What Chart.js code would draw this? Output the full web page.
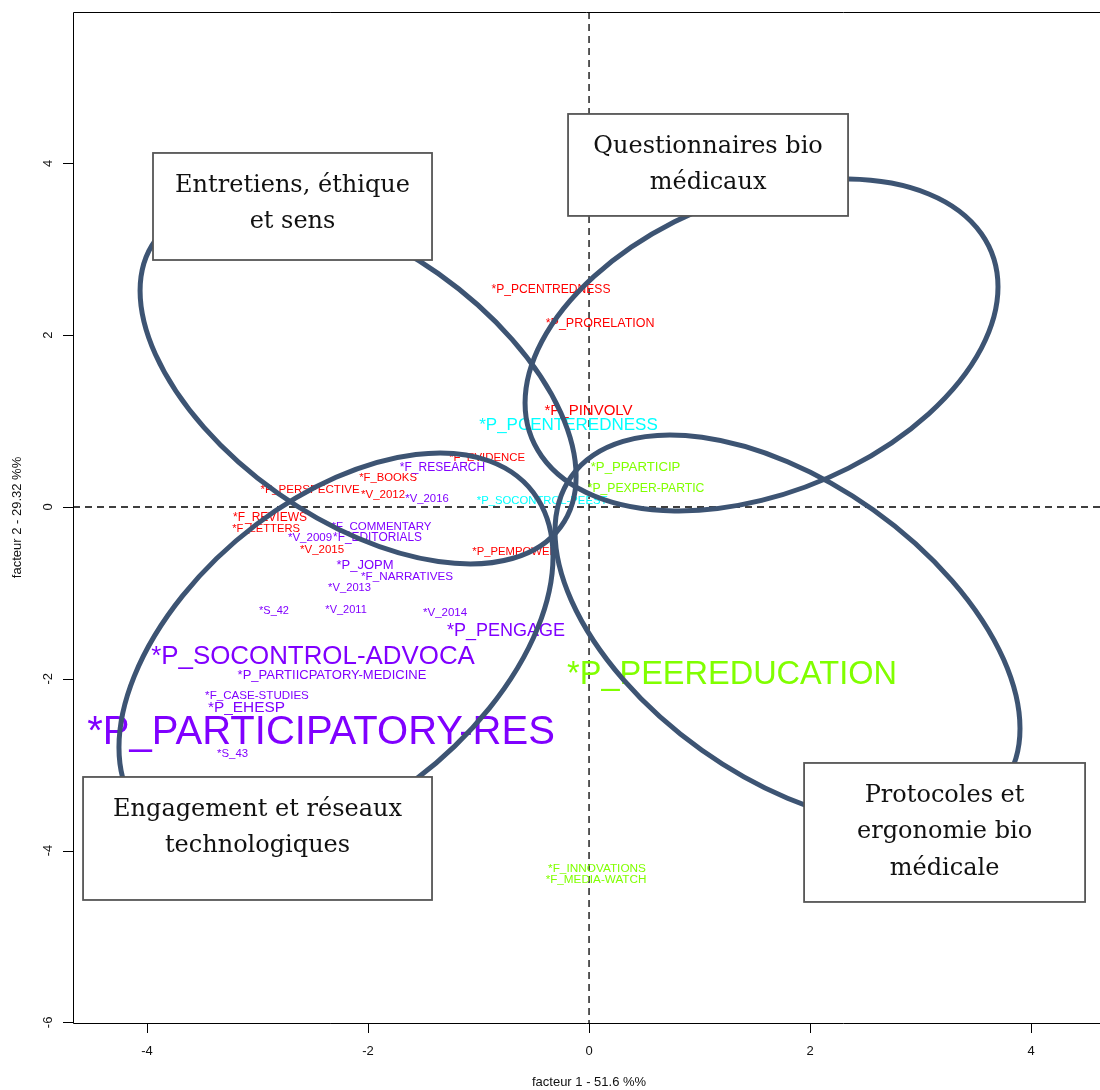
<!DOCTYPE html>
<html>
<head>
<meta charset="utf-8">
<title>AFC</title>
<script src="https://cdn.jsdelivr.net/npm/chart.js@4.4.1/dist/chart.umd.min.js"></script>
<style>
  html, body { margin: 0; padding: 0; background: #fff; }
  #wrap { width: 1100px; height: 1090px; }
</style>
</head>
<body>
<div id="wrap"><canvas id="afc" width="1100" height="1090"></canvas></div>
<script>
// Modalites and their coordinates on the two factors
var modalites = [
  '*P_PCENTREDNESS', '*P_PRORELATION', '*P_PINVOLV', '*P_PCENTEREDNESS',
  '*F_EVIDENCE', '*F_RESEARCH', '*F_BOOKS', '*F_PERSPECTIVE', '*V_2012', '*V_2016',
  '*P_SOCONTROL-PEEST', '*F_REVIEWS', '*F_LETTERS', '*F_COMMENTARY', '*V_2009',
  '*F_EDITORIALS', '*V_2015', '*P_PEMPOWER', '*P_JOPM', '*F_NARRATIVES', '*V_2013',
  '*S_42', '*V_2011', '*V_2014', '*P_PENGAGE', '*P_SOCONTROL-ADVOCA',
  '*P_PARTIICPATORY-MEDICINE', '*F_CASE-STUDIES', '*P_EHESP', '*P_PARTICIPATORY-RES',
  '*S_43', '*P_PPARTICIP', '*P_PEXPER-PARTIC', '*P_PEEREDUCATION',
  '*F_INNOVATIONS', '*F_MEDIA-WATCH'
];
var facteur1 = [
  -0.344, 0.100, -0.005, -0.186,
  -0.923, -1.326, -1.819, -2.525, -1.864, -1.466,
  -0.425, -2.887, -2.923, -1.878, -2.525,
  -1.914, -2.416, -0.670, -2.027, -1.647, -2.167,
  -2.851, -2.199, -1.303, -0.751, -2.498,
  -2.326, -3.005, -3.100, -2.425,
  -3.226, 0.421, 0.516, 1.294,
  0.072, 0.063
];
var facteur2 = [
  2.538, 2.142, 1.129, 0.966,
  0.582, 0.466, 0.349, 0.210, 0.151, 0.105,
  0.081, -0.116, -0.244, -0.221, -0.349,
  -0.349, -0.489, -0.512, -0.664, -0.803, -0.931,
  -1.199, -1.187, -1.222, -1.432, -1.723,
  -1.944, -2.189, -2.328, -2.596,
  -2.864, 0.477, 0.221, -1.921,
  -4.203, -4.331
];
var classe = [
  1, 1, 1, 3,
  1, 4, 1, 1, 1, 4,
  3, 1, 1, 4, 4,
  4, 1, 1, 4, 4, 4,
  4, 4, 4, 4, 4,
  4, 4, 4, 4,
  4, 2, 2, 2,
  2, 2
];

// Ellipses de concentration: centre, ecarts et correlation
var ellCx = [-2.090, 1.561, -2.290, 1.796];
var ellCy = [1.438, 1.886, -1.688, -1.432];
var ellSx = [1.973, 2.140, 1.964, 2.104];
var ellSy = [2.101, 1.932, 2.317, 2.270];
var ellR = [-0.514, 0.35, 0.479, -0.505];

// Boites de titre (coin haut gauche / bas droit en unites des facteurs)
var boxTexts = [
  ['Entretiens, éthique', 'et sens'],
  ['Questionnaires bio', 'médicaux'],
  ['Engagement et réseaux', 'technologiques'],
  ['Protocoles et', 'ergonomie bio', 'médicale']
];
var boxX1 = [-3.946, -0.190, -4.579, 1.946];
var boxX2 = [-1.421, 2.344, -1.421, 4.489];
var boxY1 = [4.121, 4.575, -3.143, -2.980];
var boxY2 = [2.875, 3.388, -4.575, -4.598];

var xTicks = [-4, -2, 0, 2, 4];
var yTicks = [-6, -4, -2, 0, 2, 4];

// styles
var labelPx = [
  12.1, 12.5, 15, 17,
  11.4, 12, 11.3, 11.6, 11.5, 11.3,
  11.3, 12, 11.2, 11.5, 11.5,
  11.9, 11.5, 11.3, 13, 11.7, 11.2,
  11, 11, 11.5, 18, 25.9,
  13, 11.6, 15.4, 40,
  11.4, 13.2, 12.2, 32.5,
  11.8, 11.7
];
var classColors = { 1: '#FF0000', 2: '#80FF00', 3: '#00FFFF', 4: '#8000FF' };
var SANS = '"Liberation Sans", Arial, sans-serif';
var SERIF = '"DejaVu Serif", serif';

var datasets = [1, 2, 3, 4].map(function (k) {
  var pts = [];
  for (var i = 0; i < modalites.length; i++) {
    if (classe[i] === k) {
      pts.push({ x: facteur1[i], y: facteur2[i], label: modalites[i], size: labelPx[i] });
    }
  }
  return { label: 'classe ' + k, data: pts, pointRadius: 0, color: classColors[k] };
});

var afcPlugin = {
  id: 'afc',
  beforeDatasetsDraw: function (chart) {
    var ctx = chart.ctx, a = chart.chartArea;
    var sx = chart.scales.x, sy = chart.scales.y;
    var x0 = sx.getPixelForValue(0), y0 = sy.getPixelForValue(0);
    ctx.save();
    ctx.strokeStyle = '#000';
    ctx.lineWidth = 1.3;
    ctx.setLineDash([7, 5]);
    ctx.beginPath();
    ctx.moveTo(x0, a.top); ctx.lineTo(x0, a.bottom);
    ctx.moveTo(a.left, y0); ctx.lineTo(a.right, y0);
    ctx.stroke();
    ctx.restore();
  },
  afterDatasetsDraw: function (chart) {
    var ctx = chart.ctx, a = chart.chartArea;
    var sx = chart.scales.x, sy = chart.scales.y;

    // labels of modalites
    ctx.save();
    ctx.textAlign = 'center';
    ctx.textBaseline = 'alphabetic';
    chart.data.datasets.forEach(function (ds, di) {
      var meta = chart.getDatasetMeta(di);
      ctx.fillStyle = ds.color;
      meta.data.forEach(function (el, j) {
        var p = ds.data[j];
        ctx.font = p.size + 'px ' + SANS;
        ctx.fillText(p.label, el.x, el.y + 0.358 * p.size);
      });
    });
    ctx.restore();

    // ellipses
    var kx = sx.getPixelForValue(1) - sx.getPixelForValue(0);
    var ky = sy.getPixelForValue(0) - sy.getPixelForValue(1);
    ctx.save();
    ctx.strokeStyle = '#3d5473';
    ctx.lineWidth = 5;
    for (var e = 0; e < ellCx.length; e++) {
      var s = Math.sqrt(1 - ellR[e] * ellR[e]);
      ctx.save();
      ctx.transform(kx * ellSx[e], -ky * ellSy[e] * ellR[e], 0, -ky * ellSy[e] * s,
        sx.getPixelForValue(ellCx[e]), sy.getPixelForValue(ellCy[e]));
      ctx.beginPath();
      ctx.arc(0, 0, 1, 0, Math.PI * 2);
      ctx.restore();
      ctx.stroke();
    }
    ctx.restore();

    // boxes
    ctx.save();
    for (var b = 0; b < boxTexts.length; b++) {
      var bx1 = sx.getPixelForValue(boxX1[b]), bx2 = sx.getPixelForValue(boxX2[b]);
      var by1 = sy.getPixelForValue(boxY1[b]), by2 = sy.getPixelForValue(boxY2[b]);
      ctx.fillStyle = '#fff';
      ctx.fillRect(bx1, by1, bx2 - bx1, by2 - by1);
      ctx.strokeStyle = '#555';
      ctx.lineWidth = 1.8;
      ctx.strokeRect(bx1, by1, bx2 - bx1, by2 - by1);
      ctx.fillStyle = '#111';
      ctx.font = '24px ' + SERIF;
      ctx.textAlign = 'center';
      ctx.textBaseline = 'alphabetic';
      boxTexts[b].forEach(function (line, li) {
        ctx.fillText(line, (bx1 + bx2) / 2, by1 + 30 + 36.5 * li + 8.7);
      });
    }
    ctx.restore();

    // axes, R style
    ctx.save();
    ctx.strokeStyle = '#000';
    ctx.lineWidth = 1;
    ctx.beginPath();
    ctx.moveTo(a.right, a.top + 0.5); ctx.lineTo(a.left + 0.5, a.top + 0.5);
    ctx.lineTo(a.left + 0.5, a.bottom + 0.5); ctx.lineTo(a.right, a.bottom + 0.5);
    xTicks.forEach(function (t) {
      var px = Math.round(sx.getPixelForValue(t)) + 0.5;
      ctx.moveTo(px, a.bottom); ctx.lineTo(px, a.bottom + 10);
    });
    yTicks.forEach(function (t) {
      var py = Math.round(sy.getPixelForValue(t)) + 0.5;
      ctx.moveTo(a.left, py); ctx.lineTo(a.left - 10, py);
    });
    ctx.stroke();

    ctx.fillStyle = '#111';
    ctx.font = '13px ' + SANS;
    ctx.textAlign = 'center';
    ctx.textBaseline = 'middle';
    xTicks.forEach(function (t) {
      ctx.fillText(String(t), sx.getPixelForValue(t), a.bottom + 28);
    });
    yTicks.forEach(function (t) {
      ctx.save();
      ctx.translate(a.left - 25, sy.getPixelForValue(t));
      ctx.rotate(-Math.PI / 2);
      ctx.fillText(String(t), 0, 0);
      ctx.restore();
    });
    ctx.font = '13px ' + SANS;
    ctx.fillText('facteur 1 - 51.6 %%', sx.getPixelForValue(0), a.bottom + 59);
    ctx.save();
    ctx.translate(17, (a.top + a.bottom) / 2);
    ctx.rotate(-Math.PI / 2);
    ctx.fillText('facteur 2 - 29.32 %%', 0, 0);
    ctx.restore();
    ctx.restore();
  }
};

new Chart(document.getElementById('afc'), {
  type: 'scatter',
  data: { datasets: datasets },
  options: {
    responsive: false,
    animation: false,
    layout: { padding: { left: 73, right: 0, top: 12, bottom: 67 } },
    plugins: { legend: { display: false }, tooltip: { enabled: false } },
    scales: {
      x: { type: 'linear', min: -4.67, max: 4.624, display: false },
      y: { type: 'linear', min: -6.007, max: 5.762, display: false }
    }
  },
  plugins: [afcPlugin]
});
</script>
</body>
</html>
